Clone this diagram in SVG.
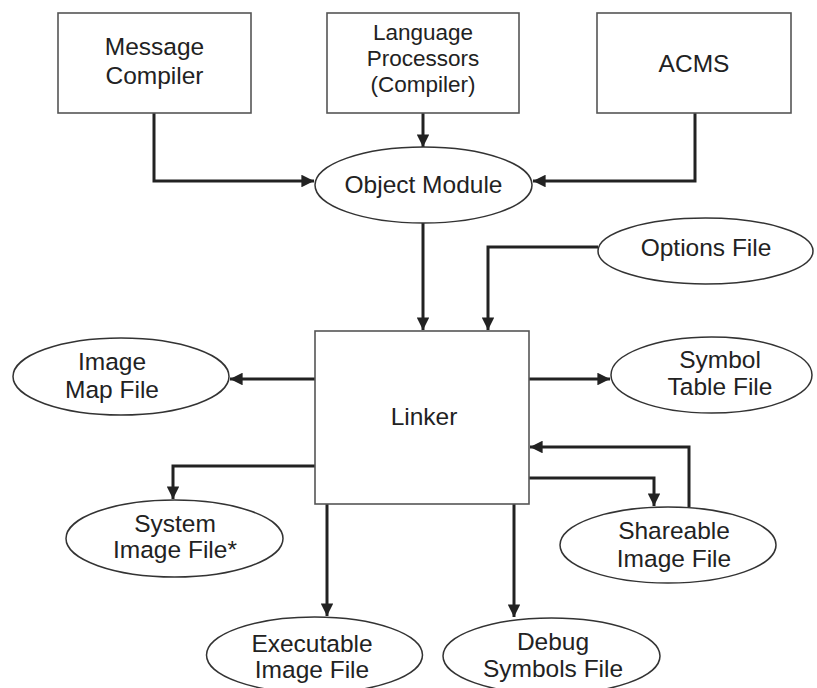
<svg xmlns="http://www.w3.org/2000/svg" width="817" height="688" viewBox="0 0 817 688">
<defs>
<style>
.box{fill:#fff;stroke:#555;stroke-width:1.6}
.ell{fill:#fff;stroke:#333;stroke-width:1.5}
.t{font-family:"Liberation Sans",Arial,sans-serif;font-size:24.5px;fill:#222;text-anchor:middle}
.s{font-size:22.5px}
.c{fill:none;stroke:#222;stroke-width:3;marker-end:url(#ah)}
</style>
<marker id="ah" viewBox="0 0 10 10" refX="10" refY="5" markerWidth="4.2" markerHeight="4.2" orient="auto" markerUnits="strokeWidth">
<path d="M0,0 L10,5 L0,10 z" fill="#222"/>
</marker>
</defs>
<rect width="817" height="688" fill="#fff"/>
<g id="connectors">
<path class="c" d="M154,113 V181 H314"/>
<path class="c" d="M423,113 V147"/>
<path class="c" d="M695,113 V181 H533"/>
<path class="c" d="M423,223 V330"/>
<path class="c" d="M598,247 H488 V330"/>
<path class="c" d="M315,379 H230"/>
<path class="c" d="M529,379 H610"/>
<path class="c" d="M689,507 V447 H530"/>
<path class="c" d="M529,478 H654 V506"/>
<path class="c" d="M315,466 H173 V499"/>
<path class="c" d="M327,504 V616"/>
<path class="c" d="M514,504 V617"/>
</g>
<g id="message-compiler">
<rect class="box" x="58" y="13" width="193" height="100"/>
<text class="t" x="154.5" y="55">Message</text>
<text class="t" x="154.5" y="84">Compiler</text>
</g>
<g id="language-processors">
<rect class="box" x="327" y="13" width="192" height="100"/>
<text class="t s" x="423" y="40">Language</text>
<text class="t s" x="423" y="66">Processors</text>
<text class="t s" x="423" y="92">(Compiler)</text>
</g>
<g id="acms">
<rect class="box" x="597" y="13" width="194" height="100"/>
<text class="t" x="694" y="72">ACMS</text>
</g>
<g id="object-module">
<ellipse class="ell" cx="423.5" cy="185" rx="108.5" ry="38"/>
<text class="t" x="423.5" y="193">Object Module</text>
</g>
<g id="options-file">
<ellipse class="ell" cx="705.5" cy="251" rx="107.5" ry="33"/>
<text class="t" x="706" y="256">Options File</text>
</g>
<g id="linker">
<rect class="box" x="315" y="331" width="214" height="173"/>
<text class="t" x="424" y="425">Linker</text>
</g>
<g id="image-map-file">
<ellipse class="ell" cx="121" cy="376.5" rx="108" ry="38.5"/>
<text class="t" x="112" y="370">Image</text>
<text class="t" x="112" y="398">Map File</text>
</g>
<g id="symbol-table-file">
<ellipse class="ell" cx="711.5" cy="375" rx="100.5" ry="38"/>
<text class="t" x="720" y="368">Symbol</text>
<text class="t" x="720" y="395">Table File</text>
</g>
<g id="system-image-file">
<ellipse class="ell" cx="174.5" cy="538.5" rx="108.5" ry="38.5"/>
<text class="t" x="175" y="532">System</text>
<text class="t" x="175" y="558">Image File*</text>
</g>
<g id="shareable-image-file">
<ellipse class="ell" cx="668" cy="545" rx="108" ry="38"/>
<text class="t" x="674" y="539">Shareable</text>
<text class="t" x="674" y="567">Image File</text>
</g>
<g id="executable-image-file">
<ellipse class="ell" cx="314.5" cy="655" rx="108" ry="38"/>
<text class="t" x="312" y="652">Executable</text>
<text class="t" x="312" y="678">Image File</text>
</g>
<g id="debug-symbols-file">
<ellipse class="ell" cx="551.5" cy="656" rx="108.5" ry="38"/>
<text class="t" x="553" y="650">Debug</text>
<text class="t" x="553" y="677">Symbols File</text>
</g>
</svg>
